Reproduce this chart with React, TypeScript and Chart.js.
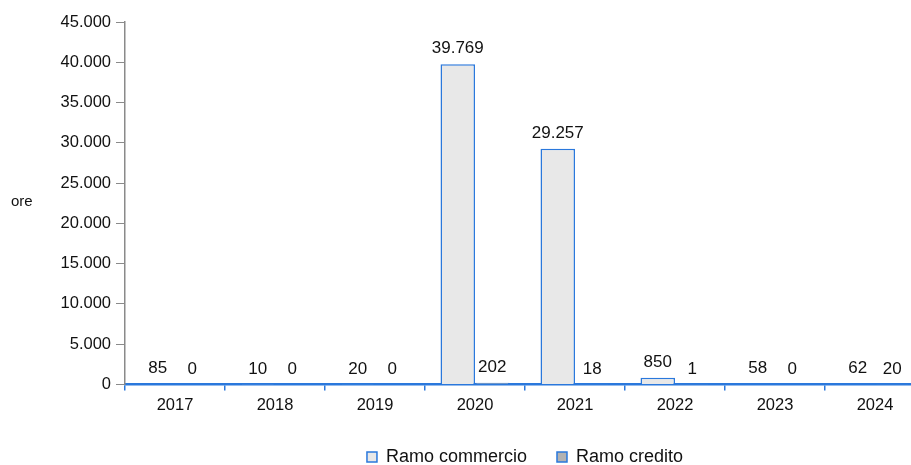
import React, { useEffect, useRef } from 'react';
import { Chart, registerables } from 'chart.js';

Chart.register(...registerables);

const years = ['2017', '2018', '2019', '2020', '2021', '2022', '2023', '2024'];
const ramoCommercio = [85, 10, 20, 39769, 29257, 850, 58, 62];
const ramoCredito = [0, 0, 0, 202, 18, 1, 0, 20];
const seriesNames = ['Ramo commercio', 'Ramo credito'];
const yAxisTitle = 'ore';
const yMin = 0;
const yMax = 45000;
const yStep = 5000;

const FONT = "'Liberation Sans', Arial, sans-serif";
const BLUE = '#2a78dc';

const fmt = (v: number) => String(Math.round(v)).replace(/\B(?=(\d{3})+(?!\d))/g, '.');

const dataLabelsPlugin = {
  id: 'dataLabels',
  afterDatasetsDraw(chart: any) {
    const ctx = chart.ctx;
    ctx.save();
    ctx.font = `17px ${FONT}`;
    ctx.fillStyle = '#111';
    ctx.textAlign = 'center';
    ctx.textBaseline = 'bottom';
    chart.data.datasets.forEach((ds: any, i: number) => {
      const meta = chart.getDatasetMeta(i);
      meta.data.forEach((bar: any, j: number) => {
        ctx.fillText(fmt(ds.data[j]), bar.x, bar.y - 7);
      });
    });
    ctx.restore();
  },
};

const yTitlePlugin = {
  id: 'yTitleFlat',
  afterDraw(chart: any) {
    const { ctx, chartArea } = chart;
    ctx.save();
    ctx.font = `15px ${FONT}`;
    ctx.fillStyle = '#111';
    ctx.textAlign = 'left';
    ctx.textBaseline = 'middle';
    ctx.fillText(yAxisTitle, 11, (chartArea.top + chartArea.bottom) / 2 - 1);
    ctx.restore();
  },
};

export default function App() {
  const ref = useRef<HTMLCanvasElement | null>(null);

  useEffect(() => {
    if (!ref.current) return;
    const chart = new Chart(ref.current, {
      type: 'bar',
      data: {
        labels: years,
        datasets: [
          {
            label: seriesNames[0],
            data: ramoCommercio,
            backgroundColor: '#e8e8e8',
            borderColor: BLUE,
            borderWidth: 1.5,
            categoryPercentage: 0.69,
            barPercentage: 1,
          },
          {
            label: seriesNames[1],
            data: ramoCredito,
            backgroundColor: '#b2b2b2',
            borderColor: BLUE,
            borderWidth: 1.5,
            categoryPercentage: 0.69,
            barPercentage: 1,
          },
        ],
      },
      options: {
        animation: false,
        responsive: false,
        maintainAspectRatio: false,
        layout: { padding: { top: 22, left: 0, right: 0, bottom: -11 } },
        plugins: {
          legend: {
            position: 'bottom',
            fullSize: false,
            labels: {
              font: { family: FONT, size: 18 },
              color: '#111',
              boxWidth: 10,
              boxHeight: 10,
              padding: 30,
            },
          },
          tooltip: { enabled: false },
        },
        scales: {
          x: {
            grid: {
              display: true,
              drawOnChartArea: false,
              offset: true,
              tickLength: 6,
              color: BLUE,
              lineWidth: 1.5,
            },
            border: { color: BLUE, width: 2.5 },
            ticks: {
              font: { family: FONT, size: 16.5 },
              color: '#111',
              padding: 5,
              maxRotation: 0,
            },
            afterFit(scale: any) {
              scale.height = 33.5;
            },
          },
          y: {
            min: yMin,
            max: yMax,
            ticks: {
              stepSize: yStep,
              font: { family: FONT, size: 16.5 },
              color: '#111',
              padding: 5,
              callback: (v: any) => fmt(Number(v)),
            },
            grid: {
              display: true,
              drawOnChartArea: false,
              tickLength: 9,
              color: '#8a8a8a',
              lineWidth: 1,
            },
            border: { color: '#8a8a8a', width: 1.5 },
            afterFit(scale: any) {
              scale.width = 125;
            },
          },
        },
      },
      plugins: [dataLabelsPlugin, yTitlePlugin],
    });
    return () => chart.destroy();
  }, []);

  return (
    <div style={{ position: 'fixed', left: 0, top: 0, width: 925, height: 465, background: '#fff' }}>
      <canvas ref={ref} width={925} height={465} style={{ width: 925, height: 465 }} />
    </div>
  );
}
